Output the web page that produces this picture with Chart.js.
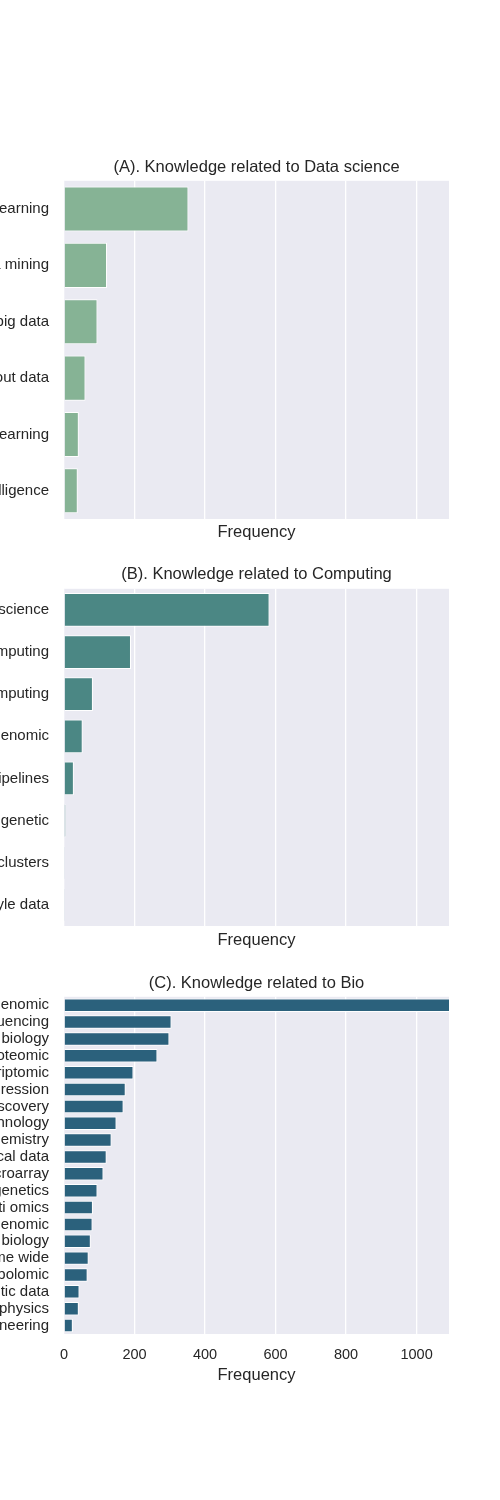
<!DOCTYPE html>
<html>
<head>
<meta charset="utf-8">
<script src="https://cdn.jsdelivr.net/npm/chart.js@4"></script>
<style>
  html, body { margin: 0; padding: 0; background: #ffffff; }
  body { width: 500px; height: 1500px; position: relative; overflow: hidden; }
  canvas { position: absolute; left: 0; }
</style>
</head>
<body>
<canvas id="cA" width="500" height="400" style="top:150px"></canvas>
<canvas id="cB" width="500" height="400" style="top:555px"></canvas>
<canvas id="cC" width="500" height="440" style="top:960px"></canvas>
<script>
// ---- Data ----
const titleA = "(A). Knowledge related to Data science";
const labelsA = ["Machine learning", "Data mining", "Use of big data", "Knowledge about data", "Deep learning", "Artificial intelligence"];
const valuesA = [353, 122, 95, 61, 42, 39];

const titleB = "(B). Knowledge related to Computing";
const labelsB = ["Data science", "Cloud computing", "High performance computing", "Computational genomic", "Analysis pipelines", "Phylogenetic", "Computing clusters", "Lifestyle data"];
const valuesB = [583, 190, 82, 53, 28, 5, 1, 1];

const titleC = "(C). Knowledge related to Bio";
const labelsC = ["Metagenomic", "Sequencing", "Molecular biology", "Proteomic", "Transcriptomic", "Gene expression", "Drug discovery", "Biotechnology", "Biochemistry", "Clinical data", "Microarray", "Epigenetics", "Multi omics", "Epigenomic", "Systems biology", "Genome wide", "Metabolomic", "Genetic data", "Biophysics", "Bioengineering"];
const valuesC = [1100, 305, 299, 265, 197, 175, 169, 149, 135, 121, 112, 95, 82, 81, 76, 70, 67, 44, 42, 25];

const xTickValues = [0, 200, 400, 600, 800, 1000];
const xMin = 0, xMax = 1092;
const xTitle = "Frequency";

// ---- Styling ----
const FONT = "'Liberation Sans', Arial, sans-serif";
const TEXT = "#262626";

const bgPlugin = {
  id: 'bgArea',
  beforeDraw(chart) {
    const { ctx, chartArea: a } = chart;
    ctx.save();
    ctx.fillStyle = '#EAEAF2';
    ctx.fillRect(a.left, a.top, a.right - a.left, a.bottom - a.top);
    ctx.restore();
  }
};

function makeChart(id, title, labels, values, color, cfg) {
  new Chart(document.getElementById(id), {
    type: 'bar',
    data: {
      labels: labels,
      datasets: [{
        data: values,
        backgroundColor: color,
        borderColor: '#ffffff',
        borderWidth: 1,
        barPercentage: 0.8,
        categoryPercentage: 1.0
      }]
    },
    plugins: [bgPlugin],
    options: {
      indexAxis: 'y',
      responsive: false,
      animation: false,
      layout: { padding: { left: 0, right: 51, top: 0, bottom: 0 } },
      plugins: {
        legend: { display: false },
        tooltip: { enabled: false },
        title: {
          display: true,
          text: title,
          fullSize: false,
          color: TEXT,
          font: { family: FONT, size: 16.5, weight: 'normal' },
          padding: { top: cfg.titleTop, bottom: cfg.titleBottom }
        }
      },
      scales: {
        x: {
          type: 'linear',
          min: xMin,
          max: xMax,
          afterBuildTicks(scale) { scale.ticks = xTickValues.map(v => ({ value: v })); },
          ticks: {
            display: cfg.showTicks,
            color: TEXT,
            padding: 12,
            font: { family: FONT, size: 14.5 },
            callback: (v) => String(v)
          },
          grid: { color: '#ffffff', lineWidth: 1.3, drawTicks: false },
          border: { display: false },
          title: {
            display: true,
            text: xTitle,
            color: TEXT,
            font: { family: FONT, size: 16.5, weight: 'normal' },
            padding: { top: 0, bottom: cfg.xTitleBottom }
          },
          afterFit(scale) { scale.height = cfg.xHeight; }
        },
        y: {
          ticks: {
            color: TEXT,
            padding: 15,
            autoSkip: false,
            font: { family: FONT, size: 15 }
          },
          grid: { display: false, drawTicks: false },
          border: { display: false },
          afterFit(scale) { scale.width = 64; }
        }
      }
    }
  });
}

makeChart('cA', titleA, labelsA, valuesA, '#86B395',
  { titleTop: 8, titleBottom: 3, xHeight: 31, xTitleBottom: 8, showTicks: false });
makeChart('cB', titleB, labelsB, valuesB, '#4B8784',
  { titleTop: 10, titleBottom: 4, xHeight: 29, xTitleBottom: 5, showTicks: false });
makeChart('cC', titleC, labelsC, valuesC, '#2B617C',
  { titleTop: 14, titleBottom: 3, xHeight: 66, xTitleBottom: 15, showTicks: true });
</script>
</body>
</html>
